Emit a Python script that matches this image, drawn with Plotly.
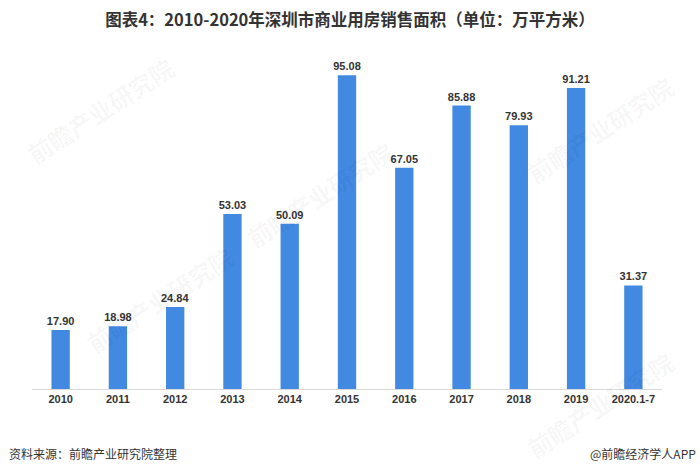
import plotly.graph_objects as go

years = ['2010', '2011', '2012', '2013', '2014', '2015', '2016', '2017', '2018', '2019', '2020.1-7']
area = [17.90, 18.98, 24.84, 53.03, 50.09, 95.08, 67.05, 85.88, 79.93, 91.21, 31.37]

font_cn = 'Noto Sans CJK SC, Microsoft YaHei, sans-serif'

bars = go.Bar(
    x=years, y=area,
    marker=dict(color='#4289e2', line_width=0),
    text=['%.2f' % v for v in area],
    textposition='outside',
    constraintext='none',
    textfont=dict(size=11, color='#333', family='Liberation Sans, Arial', weight='bold'),
    cliponaxis=False,
    hoverinfo='x+y')

fig = go.Figure(data=[bars])

# faint watermarks
for wx, wy in [(0.108, 0.845), (0.457, 0.588), (0.902, 0.785), (0.203, 0.27), (0.902, -0.048)]:
    fig.add_annotation(x=wx, y=wy, xref='paper', yref='paper', text='前瞻产业研究院',
                       xanchor='center', yanchor='middle',
                       showarrow=False, textangle=-33,
                       font=dict(size=24, color='rgba(0,0,0,0.045)', family=font_cn, weight='bold'))

fig.update_layout(
    width=700, height=474,
    paper_bgcolor='white', plot_bgcolor='white',
    margin=dict(l=32, r=38, t=59, b=85, autoexpand=False),
    bargap=0.68,
    showlegend=False,
    title=dict(text='图表4：2010-2020年深圳市商业用房销售面积（单位：万平方米）',
               x=0.5, xanchor='center', y=0.957, yanchor='middle',
               font=dict(size=16.5, color='#333', family=font_cn, weight='bold')),
    xaxis=dict(showline=True, linecolor='#d9d9d9', linewidth=1, ticks='', automargin=False,
               tickfont=dict(size=11, color='#333', family='Liberation Sans, Arial', weight='bold')),
    yaxis=dict(range=[0, 100], visible=False, showgrid=False, automargin=False),
)

fig.add_annotation(x=0, y=-0.194, xref='paper', yref='paper', xanchor='left', yanchor='middle',
                   xshift=-25, text='资料来源：前瞻产业研究院整理', showarrow=False,
                   font=dict(size=12, color='#333', family=font_cn))
fig.add_annotation(x=1, y=-0.194, xref='paper', yref='paper', xanchor='right', yanchor='middle',
                   xshift=36, text='@前瞻经济学人APP', showarrow=False,
                   font=dict(size=12, color='#333', family=font_cn))

fig.write_html('out.html', config={'displayModeBar': False},
               post_script="document.body.style.margin='0';")
